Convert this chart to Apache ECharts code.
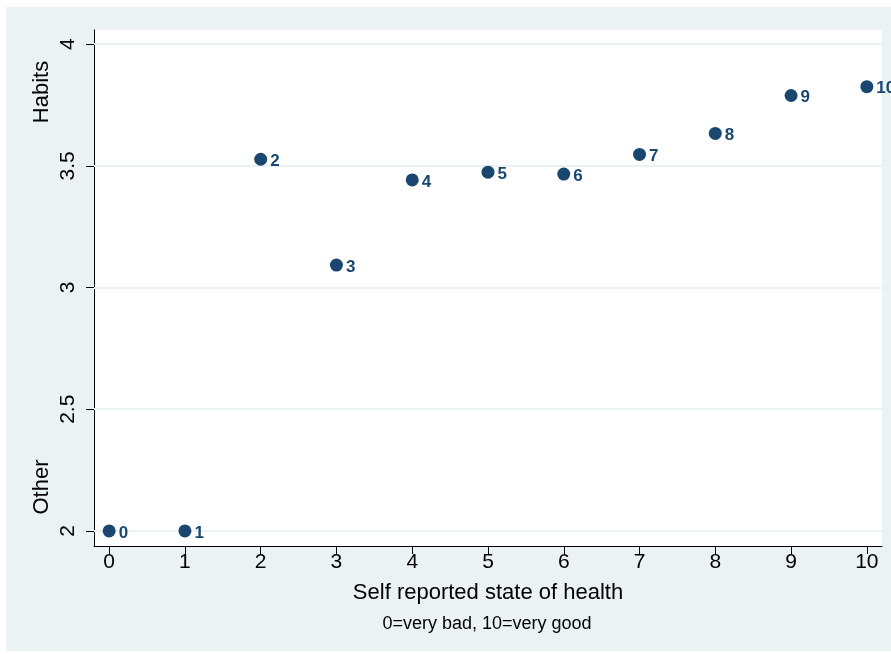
<!DOCTYPE html>
<html>
<head>
<meta charset="utf-8">
<script src="https://cdn.jsdelivr.net/npm/echarts@6/dist/echarts.min.js"></script>
<style>html,body{margin:0;padding:0;background:#fff;}#c{width:891px;height:654px;}</style>
</head>
<body>
<div id="c"></div>
<script>
const healthScores = [0, 1, 2, 3, 4, 5, 6, 7, 8, 9, 10];
const habitsValues = [2.0, 2.0, 3.527, 3.092, 3.442, 3.474, 3.466, 3.547, 3.633, 3.789, 3.825];
const xTicks = [0, 1, 2, 3, 4, 5, 6, 7, 8, 9, 10];
const yTicks = [2, 2.5, 3, 3.5, 4];
const yTickLabels = ['2', '2.5', '3', '3.5', '4'];

const chart = echarts.init(document.getElementById('c'), null, {renderer: 'canvas'});
const navy = '#1A476F';
const font = 'Liberation Sans, Arial, sans-serif';

const pointData = healthScores.map((x, i) => [x, habitsValues[i]]);

chart.setOption({
  animation: false,
  backgroundColor: '#ffffff',
  graphic: [
    {type: 'rect', z: -10, shape: {x: 6, y: 7, width: 885, height: 644}, style: {fill: '#EAF2F3'}},
    {type: 'text', x: 42, y: 92, rotation: Math.PI / 2, style: {text: 'Habits', font: '22px ' + font, fill: '#000', align: 'center', verticalAlign: 'middle'}},
    {type: 'text', x: 42, y: 487, rotation: Math.PI / 2, style: {text: 'Other', font: '22px ' + font, fill: '#000', align: 'center', verticalAlign: 'middle'}},
    {type: 'text', x: 488, y: 593, style: {text: 'Self reported state of health', font: '22px ' + font, fill: '#000', align: 'center', verticalAlign: 'middle'}},
    {type: 'text', x: 487, y: 624, style: {text: '0=very bad, 10=very good', font: '18px ' + font, fill: '#000', align: 'center', verticalAlign: 'middle'}}
  ],
  grid: {left: 94, right: 9, top: 30, bottom: 108, show: true, backgroundColor: '#ffffff', borderWidth: 0},
  xAxis: {
    type: 'value', min: -0.2, max: 10.2,
    axisLine: {show: true, onZero: false, lineStyle: {color: '#000', width: 1}},
    axisTick: {show: true, length: 8, lineStyle: {color: '#000'}, customValues: xTicks},
    axisLabel: {fontSize: 21, fontFamily: font, color: '#000', margin: 6, customValues: xTicks},
    splitLine: {show: false}
  },
  yAxis: {
    type: 'value', min: 1.938, max: 4.058,
    axisLine: {show: true, onZero: false, lineStyle: {color: '#000', width: 1}},
    axisTick: {show: true, length: 8, lineStyle: {color: '#000'}, customValues: yTicks},
    axisLabel: {fontSize: 21, fontFamily: font, color: '#000', rotate: 90, margin: 15, customValues: yTicks,
      formatter: v => { const i = yTicks.indexOf(v); return i >= 0 ? yTickLabels[i] : ''; }},
    splitLine: {show: false}
  },
  series: [{
    type: 'scatter',
    symbol: 'circle',
    symbolSize: 13,
    itemStyle: {color: navy, opacity: 1},
    data: pointData,
    label: {
      show: true, position: 'right', distance: 3, offset: [0, 2],
      formatter: p => String(p.value[0]),
      color: navy, fontWeight: 'bold', fontSize: 17, fontFamily: font
    },
    markLine: {
      silent: true, symbol: ['none', 'none'], z: 1,
      label: {show: false},
      lineStyle: {color: '#EAF2F3', width: 2, type: 'solid'},
      data: yTicks.map(v => ({yAxis: v}))
    },
    z: 5
  }]
});
</script>
</body>
</html>
